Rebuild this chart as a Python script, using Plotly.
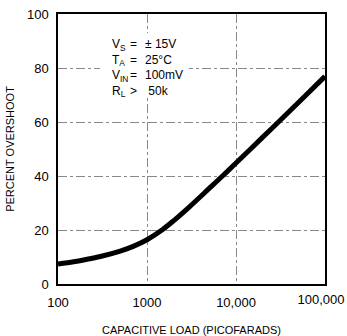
import plotly.graph_objects as go

cap_pf = [100, 150, 200, 300, 500, 700, 1000, 1500, 2000, 3000, 5000, 7000, 10000, 20000, 30000, 50000, 100000]
overshoot = [7.4, 8.25, 9.0, 10.2, 12.2, 13.95, 16.4, 20.2, 23.5, 28.6, 35.4, 39.9, 44.8, 54.4, 60.0, 67.1, 76.9]
x_ticks = [100, 1000, 10000, 100000]
x_tick_labels = ["100", "1000", "10,000", "100,000"]
y_ticks = [0, 20, 40, 60, 80, 100]

cond_names = ["V<sub>S</sub>", "T<sub>A</sub>", "V<sub>IN</sub>", "R<sub>L</sub>"]
cond_ops = ["=", "=", "=", ">"]
cond_values = ["± 15V", "25°C", "100mV", " 50k"]

FONT = "Liberation Sans Narrow, Arial Narrow, Liberation Sans, Arial, sans-serif"

fig = go.Figure()
fig.add_trace(go.Scatter(x=cap_pf, y=overshoot, mode="lines",
                         line=dict(color="black", width=5, shape="spline"),
                         showlegend=False))
# same series on the overlaid axis that carries the last tick label
fig.add_trace(go.Scatter(x=cap_pf, y=overshoot, mode="lines", xaxis="x2",
                         line=dict(color="rgba(0,0,0,0)", width=0),
                         hoverinfo="skip", showlegend=False))

# white box behind the conditions text (breaks the grid lines as in the reference)
fig.add_shape(type="rect", xref="paper", yref="paper", x0=0.157, x1=0.49,
              y0=0.70, y1=0.93, fillcolor="white", line=dict(width=0), layer="above")

for xpos, col in [(0.195, cond_names), (0.262, cond_ops), (0.318, cond_values)]:
    fig.add_annotation(
        xref="paper", yref="paper", x=xpos, y=0.922, xanchor="left", yanchor="top",
        showarrow=False, align="left", text="<br>".join(col),
        font=dict(family=FONT, size=12, color="black"),
    )

common = dict(type="log", range=[2, 5], ticks="", zeroline=False,
              ticklabelstandoff=6, ticklabeloverflow="allow", automargin=False,
              tickfont=dict(family=FONT, size=13, color="black"))

fig.update_layout(
    xaxis=dict(**common, tickvals=x_ticks[:-1], ticktext=x_tick_labels[:-1],
               showgrid=True, gridcolor="#888", griddash="dashdot", gridwidth=1,
               showline=True, linecolor="black", linewidth=1.5, mirror=True,
               title=dict(text="CAPACITIVE LOAD (PICOFARADS)", standoff=18,
                          font=dict(family=FONT, size=11, color="black"))),
    xaxis2=dict(**common, tickvals=x_ticks[-1:], ticktext=x_tick_labels[-1:],
                overlaying="x", anchor="y", side="bottom", showgrid=False,
                showline=False, ticklabelshift=-4),
)
fig.update_yaxes(range=[0, 100], tickvals=y_ticks,
                 showgrid=True, gridcolor="#888", griddash="dashdot", gridwidth=1,
                 showline=True, linecolor="black", linewidth=1.5, mirror=True,
                 ticks="", zeroline=False, ticklabelstandoff=5, automargin=False,
                 title=dict(text="PERCENT OVERSHOOT", standoff=10,
                            font=dict(family=FONT, size=11, color="black")),
                 tickfont=dict(family=FONT, size=13, color="black"))

fig.update_layout(width=347, height=336, margin=dict(l=58, r=22, t=14, b=52),
                  plot_bgcolor="white", paper_bgcolor="white")
fig.write_html("out.html")
